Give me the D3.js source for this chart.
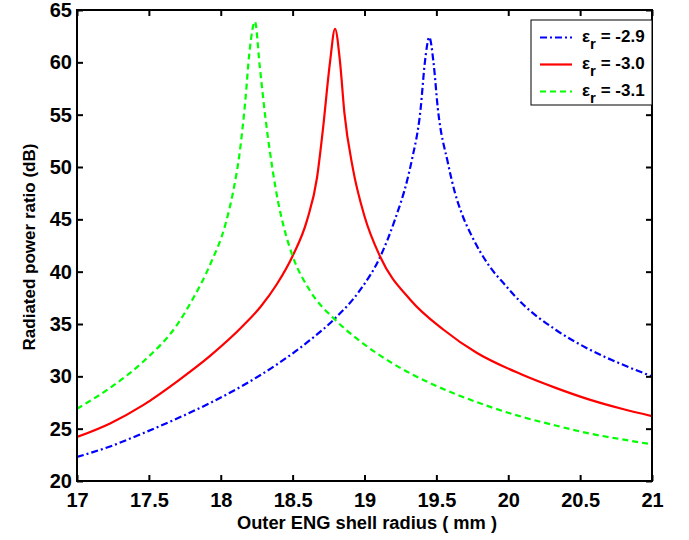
<!DOCTYPE html>
<html><head><meta charset="utf-8">
<script src="https://cdn.jsdelivr.net/npm/d3@7"></script>
<style>
html,body{margin:0;padding:0;background:#fff;}
text{font-family:"Liberation Sans",Arial,sans-serif;font-weight:bold;fill:#000;}
</style></head>
<body><svg id="c" width="689" height="540"></svg>
<script>
// ---- data ----
const xTicks = [17, 17.5, 18, 18.5, 19, 19.5, 20, 20.5, 21];
const yTicks = [20, 25, 30, 35, 40, 45, 50, 55, 60, 65];
const seriesNames = ["-2.9", "-3.0", "-3.1"];

const xBlue = [17.00,17.23,17.46,17.70,17.93,18.16,18.39,18.62,18.80,18.97,19.11,19.21,19.30,19.33,19.39,19.42,19.451,19.48,19.51,19.58,19.63,19.67,19.75,19.86,19.98,20.09,20.33,20.56,20.79,21.00];
const yBlue = [22.3,23.3,24.57,25.99,27.48,29.17,31.13,33.45,35.6,38.25,41.44,44.9,48.9,50.7,55.5,60.0,62.4,60.0,55.6,50.4,47.5,45.8,43.3,40.7,38.7,37.05,34.45,32.6,31.15,30.0];

const xRed = [17.00,17.23,17.46,17.70,17.93,18.16,18.28,18.39,18.50,18.60,18.67,18.71,18.76,18.795,18.83,18.86,18.92,19.00,19.11,19.32,19.55,19.78,20.09,20.33,20.56,20.79,21.00];
const yRed = [24.2,25.5,27.25,29.55,32.0,34.9,36.7,38.8,41.5,44.9,49.0,53.5,60.0,63.2,60.0,55.2,49.8,45.3,41.4,37.3,34.45,32.25,30.2,28.9,27.8,26.9,26.2];

const xGreen = [17.00,17.23,17.46,17.70,17.81,17.93,18.03,18.09,18.13,18.17,18.20,18.238,18.27,18.31,18.36,18.40,18.44,18.50,18.62,18.80,18.97,19.20,19.44,19.63,19.86,20.09,20.33,20.56,20.79,21.00];
const yGreen = [26.9,28.9,31.4,35.0,37.5,40.8,44.4,47.9,51.2,56.2,61.0,63.9,59.8,54.8,49.8,46.6,44.2,41.5,38.2,35.35,33.35,31.2,29.45,28.33,27.15,26.15,25.3,24.55,23.98,23.5];

// ---- layout ----
const L = 77, R = 652, T = 10, B = 481;
const svg = d3.select("#c");
const x = d3.scaleLinear().domain([17, 21]).range([L, R]);
const y = d3.scaleLinear().domain([20, 65]).range([B, T]);

const series = [
  {name: seriesNames[0], xs: xBlue, ys: yBlue, color: "#0000ff", dash: "7,3,2,3"},
  {name: seriesNames[1], xs: xRed, ys: yRed, color: "#ff0000", dash: null},
  {name: seriesNames[2], xs: xGreen, ys: yGreen, color: "#00ff00", dash: "6,4"}
];

const line = d3.line().x(d => x(d[0])).y(d => y(d[1])).curve(d3.curveMonotoneX);

svg.append("clipPath").attr("id","pc").append("rect")
  .attr("x", L).attr("y", T).attr("width", R - L).attr("height", B - T);

const plot = svg.append("g").attr("clip-path", "url(#pc)");
series.forEach(s => {
  const pts = s.xs.map((v, i) => [v, s.ys[i]]);
  plot.append("path").attr("d", line(pts)).attr("fill", "none")
    .attr("stroke", s.color).attr("stroke-width", 2.2)
    .attr("stroke-dasharray", s.dash);
});

// axes (MATLAB style: inward ticks on all four sides)
const fs = 20;
const axB = svg.append("g").attr("transform", `translate(0,${B})`)
  .call(d3.axisBottom(x).tickValues(xTicks).tickSize(-6).tickPadding(12).tickFormat(d3.format("")));
const axT = svg.append("g").attr("transform", `translate(0,${T})`)
  .call(d3.axisTop(x).tickValues(xTicks).tickSize(-6).tickFormat(""));
const axL = svg.append("g").attr("transform", `translate(${L},0)`)
  .call(d3.axisLeft(y).tickValues(yTicks).tickSize(-6).tickPadding(5).tickFormat(d3.format("")));
const axR = svg.append("g").attr("transform", `translate(${R},0)`)
  .call(d3.axisRight(y).tickValues(yTicks).tickSize(-6).tickFormat(""));
[axB, axT, axL, axR].forEach(a => {
  a.selectAll(".domain").remove();
  a.selectAll(".tick line").attr("stroke", "#000").attr("stroke-width", 2);
  a.selectAll("text").style("font-size", fs + "px").style("font-family", "Liberation Sans, Arial, sans-serif").style("font-weight", "bold");
});
axB.selectAll("text").attr("dy", "0.71em");
svg.append("rect").attr("x", L).attr("y", T).attr("width", R - L).attr("height", B - T)
  .attr("fill", "none").attr("stroke", "#000").attr("stroke-width", 2);

// axis titles
svg.append("text").attr("x", 367).attr("y", 529).attr("text-anchor", "middle")
  .style("font-size", "18.3px").text("Outer ENG shell radius ( mm )");
svg.append("text").attr("transform", `translate(35,247) rotate(-90)`).attr("text-anchor", "middle")
  .style("font-size", "17px").text("Radiated power ratio (dB)");

// legend
const lg = svg.append("g");
lg.append("rect").attr("x", 531).attr("y", 20).attr("width", R - 531).attr("height", 85)
  .attr("fill", "#fff").attr("stroke", "#000").attr("stroke-width", 1);
series.forEach((s, i) => {
  const cy = 37.5 + i * 27;
  lg.append("line").attr("x1", 540).attr("x2", 572).attr("y1", cy).attr("y2", cy)
    .attr("stroke", s.color).attr("stroke-width", 2.2).attr("stroke-dasharray", s.dash);
  const t = lg.append("text").attr("x", 582).attr("y", cy + 4).style("font-size", "17px");
  t.append("tspan").text("ε");
  t.append("tspan").attr("dy", 7).style("font-size", "15px").text("r");
  t.append("tspan").attr("dy", -7).text(" = " + s.name);
});
</script></body></html>
